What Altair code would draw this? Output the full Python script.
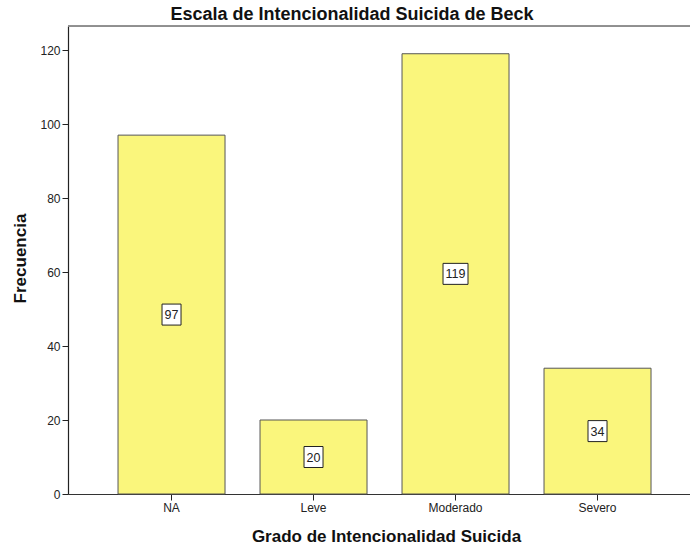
import altair as alt
import pandas as pd

# Frequencies per category of the Beck suicidal intent scale
categorias = ["NA", "Leve", "Moderado", "Severo"]
frecuencias = [97, 20, 119, 34]

df = pd.DataFrame({"grado": categorias, "n": frecuencias})

FONT = "Liberation Sans"

# label boxes: rectangle paths (coords in the -1..1 symbol box), by digit count
BOX_2 = "M-0.905,-1H0.905V1H-0.905Z"
BOX_3 = "M-1.19,-1H1.19V1H-1.19Z"

x_enc = alt.X(
    "grado:N",
    sort=categorias,
    scale=alt.Scale(paddingInner=0.2465, paddingOuter=0.3134, align=0.562),
    axis=alt.Axis(
        title="Grado de Intencionalidad Suicida",
        labelAngle=0,
        labelFont=FONT,
        labelFontSize=12,
        labelColor="#222222",
        labelPadding=2,
        tickSize=6,
        tickColor="#222222",
        domainColor="#333333",
        domainWidth=1.2,
        titleFont=FONT,
        titleFontSize=17,
        titleFontWeight="bold",
        titleColor="#111111",
        titleX=318,
        titleY=47,
        titleAlign="center",
        titleBaseline="alphabetic",
        grid=False,
    ),
)

y_scale = alt.Scale(domain=[0, 126.5], nice=False, zero=True)

bars = alt.Chart(df).mark_bar(
    color="#FAF67C", stroke="#555555", strokeWidth=1
).encode(
    x=x_enc,
    y=alt.Y(
        "n:Q",
        scale=y_scale,
        axis=alt.Axis(
            title="Frecuencia",
            values=[0, 20, 40, 60, 80, 100, 120],
            labelFont=FONT,
            labelFontSize=12,
            labelColor="#222222",
            labelPadding=2,
            tickSize=6,
            tickColor="#222222",
            domainColor="#222222",
            domainWidth=1.2,
            titleFont=FONT,
            titleFontSize=17,
            titleFontWeight="bold",
            titleColor="#111111",
            titleAngle=270,
            titleX=-43,
            titleY=232,
            titleAlign="center",
            titleBaseline="alphabetic",
            grid=False,
        ),
    ),
)

labelled = alt.Chart(df).transform_calculate(mid="datum.n / 2")


def label_boxes(test, path):
    return labelled.transform_filter(test).mark_point(
        shape=path,
        filled=True,
        fill="white",
        stroke="#222222",
        strokeWidth=1,
        opacity=1,
        size=441,
    ).encode(
        x=alt.X("grado:N", sort=categorias),
        y=alt.Y("mid:Q", scale=y_scale),
    )


boxes_2 = label_boxes("datum.n < 100", BOX_2)
boxes_3 = label_boxes("datum.n >= 100", BOX_3)

texts = labelled.mark_text(
    font=FONT, fontSize=12.5, color="#222222", baseline="middle", align="center", dy=0.5
).encode(
    x=alt.X("grado:N", sort=categorias),
    y=alt.Y("mid:Q", scale=y_scale),
    text=alt.Text("n:Q"),
)

# thin grey frame line along the top of the plot area
top_border = alt.Chart(df).mark_rule(color="#8a8a8a", strokeWidth=1).encode(
    x=alt.value(0), x2=alt.value(622), y=alt.value(0)
)

chart = (
    alt.layer(bars, boxes_2, boxes_3, texts, top_border)
    .properties(
        width=622,
        height=468,
        autosize=alt.AutoSizeParams(type="none"),
        padding={"left": 68, "top": 26, "right": 0, "bottom": 54},
        title=alt.TitleParams(
            "Escala de Intencionalidad Suicida de Beck",
            font=FONT,
            fontSize=18,
            fontWeight="bold",
            color="#111111",
            anchor="middle",
            frame="group",
            dx=-27,
            dy=17,
            offset=5,
            baseline="alphabetic",
        ),
    )
    .configure_view(stroke=None, fill="#F0F0F0")
    .configure(background="white")
)

chart.save("out.html", embed_options={"renderer": "svg", "actions": False})
